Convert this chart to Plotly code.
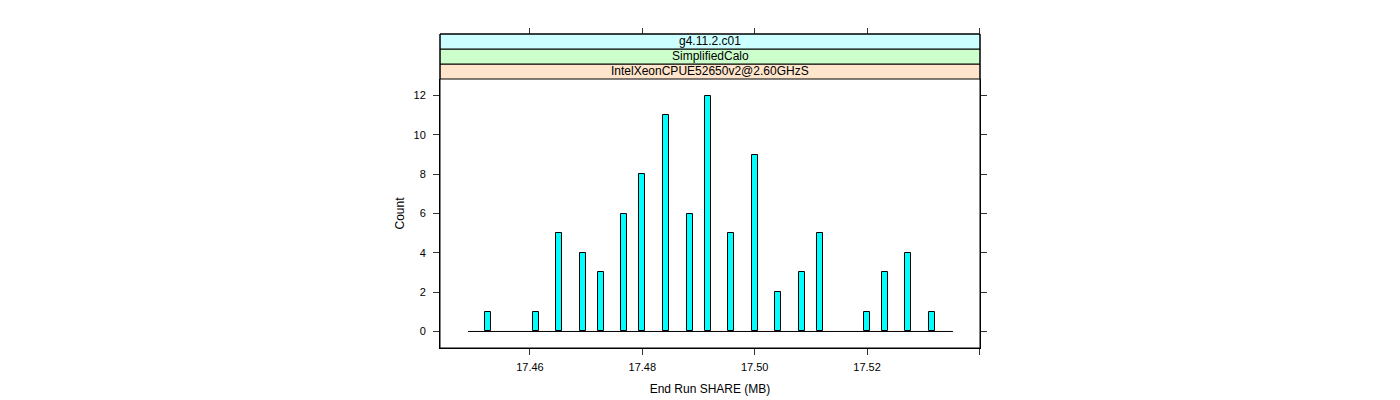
import plotly.graph_objects as go

# ---- data ----
share_mb = [17.4525, 17.4611, 17.4652, 17.4694, 17.4726, 17.4767, 17.4799,
            17.4842, 17.4885, 17.4917, 17.4958, 17.5000, 17.5041, 17.5084,
            17.5116, 17.5200, 17.5232, 17.5273, 17.5315]
counts = [1, 1, 5, 4, 3, 6, 8, 11, 6, 12, 5, 9, 2, 3, 5, 1, 3, 4, 1]
hist_range = [17.449, 17.5353]
bin_width = 0.00107
x_tickvals = [17.46, 17.48, 17.50, 17.52, 17.54]
x_ticktext = ["17.46", "17.48", "17.50", "17.52", ""]
y_tickvals = [0, 2, 4, 6, 8, 10, 12]
strip_labels = ["IntelXeonCPUE52650v2@2.60GHzS", "SimplifiedCalo", "g4.11.2.c01"]
strip_colors = ["#ffe5cc", "#ccffcc", "#ccffff"]

W, H = 1400, 400
ml, mr, mt, mb = 432, 428, 26, 60
plot_h = H - mt - mb          # 314
panel_h = 269
strip_h = 15
dom_top = panel_h / plot_h

FONT = "Liberation Sans, Arial, sans-serif"
fs = 11

fig = go.Figure()
fig.add_trace(go.Scatter(x=hist_range, y=[0, 0], mode="lines",
                         line=dict(color="black", width=1), xaxis="x2", yaxis="y",
                         showlegend=False, hoverinfo="skip"))
fig.add_trace(go.Bar(x=share_mb, y=counts, width=bin_width,
                     marker=dict(color="#00ffff", line=dict(color="black", width=1)),
                     showlegend=False))

xr = [17.4440, 17.5401]
yr = [-0.84, 12.84]

shapes = []
for i, (lab, col) in enumerate(zip(strip_labels, strip_colors)):
    y0 = dom_top + i * strip_h / plot_h
    y1 = dom_top + (i + 1) * strip_h / plot_h
    shapes.append(dict(type="rect", xref="paper", yref="paper", x0=0, x1=1, y0=y0, y1=y1,
                       fillcolor=col, line=dict(color="black", width=1), layer="below"))
shapes.append(dict(type="rect", xref="paper", yref="paper", x0=0, x1=1, y0=0, y1=1,
                   line=dict(color="black", width=1), fillcolor="rgba(0,0,0,0)"))

annotations = []
for i, lab in enumerate(strip_labels):
    yc = dom_top + (i + 0.5) * strip_h / plot_h
    annotations.append(dict(text=lab, xref="paper", yref="paper", x=0.5, y=yc,
                            showarrow=False, font=dict(family=FONT, size=12, color="black"),
                            xanchor="center", yanchor="middle"))

axis_common = dict(showgrid=False, zeroline=False, ticks="outside", ticklen=6,
                   tickcolor="#333333", linecolor="black", showline=True,
                   tickfont=dict(family=FONT, size=fs, color="black"))

fig.update_layout(
    width=W, height=H, margin=dict(l=ml, r=mr, t=mt, b=mb),
    paper_bgcolor="white", plot_bgcolor="white",
    bargap=0, barmode="overlay",
    xaxis=dict(range=xr, tickvals=x_tickvals, ticktext=x_ticktext,
               title=dict(text="End Run SHARE (MB)", font=dict(family=FONT, size=12, color="black"), standoff=12),
               ticklabelstandoff=3, **axis_common),
    xaxis2=dict(range=xr, matches="x", overlaying="x", side="top", anchor="free", position=1,
                tickvals=x_tickvals, showticklabels=False, showgrid=False, zeroline=False,
                ticks="outside", ticklen=6, tickcolor="#333333", showline=False),
    yaxis=dict(range=yr, domain=[0, dom_top], tickvals=y_tickvals, mirror="ticks",
               title=dict(text="Count", font=dict(family=FONT, size=12, color="black"), standoff=6),
               ticklabelstandoff=5, **axis_common),
    shapes=shapes, annotations=annotations,
)

fig.write_html("out.html")
